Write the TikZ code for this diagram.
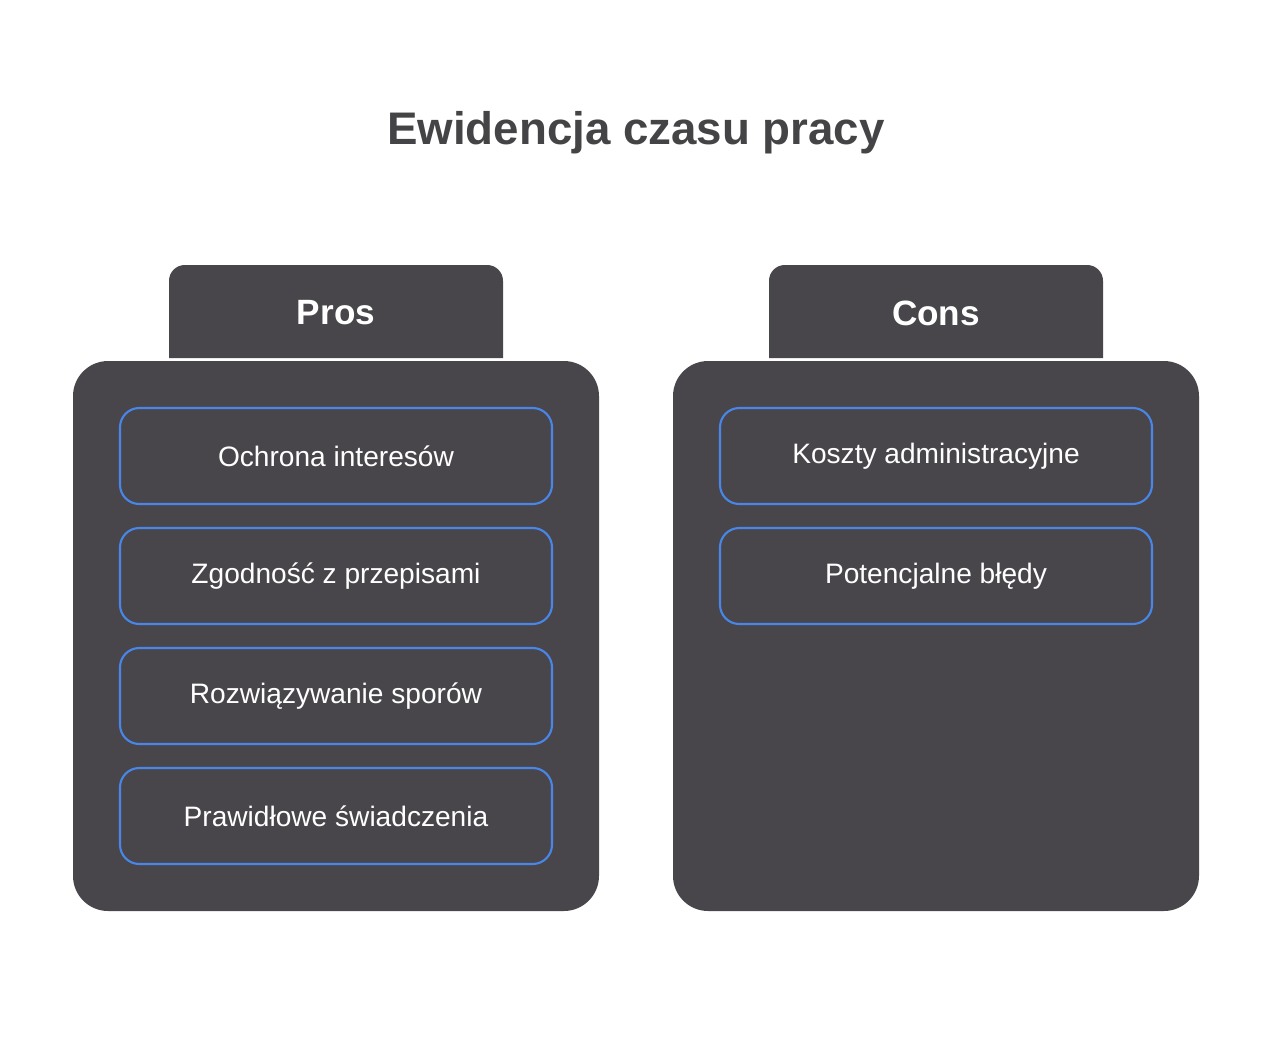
\documentclass[tikz,border=0pt]{standalone}
\usepackage{fontspec}
\setmainfont{Liberation Sans}
\definecolor{panel}{HTML}{48464A}
\definecolor{ttl}{HTML}{444446}
\definecolor{blu}{HTML}{4A86E8}
\begin{document}
\begin{tikzpicture}[x=0.02cm,y=-0.02cm,
  item/.style={draw=blu,line width=1.2pt,rounded corners=11pt,minimum width=432*0.02cm,minimum height=96*0.02cm,text=white,font=\fontsize{16}{19}\selectfont,inner sep=0pt},
  head/.style={text=white,font=\bfseries\fontsize{20}{24}\selectfont},
  pan/.style={fill=panel,rounded corners=20pt}]
\useasboundingbox (0,0) rectangle (1272,1056);
\node[text=ttl,font=\bfseries\fontsize{26}{30}\selectfont] (title) at (636,133) {Ewidencja czasu pracy};
\foreach \dx/\nm in {0/pros,600/cons}{
  \fill[panel] (169+\dx,358) [rounded corners=9pt] -- (169+\dx,265) -- (503+\dx,265) -- (503+\dx,300) [sharp corners] -- (503+\dx,358) -- cycle;
  \fill[pan] (73+\dx,361) rectangle (599+\dx,911);
}
\node[head] (prosh) at (336,313) {Pros};
\node[head] (consh) at (936,313) {Cons};
\node[item] (p1) at (336,456) {Ochrona interesów};
\node[item] (p2) at (336,576) {Zgodność z przepisami};
\node[item] (p3) at (336,696) {Rozwiązywanie sporów};
\node[item] (p4) at (336,816) {Prawidłowe świadczenia};
\node[item] (c1) at (936,456) {Koszty administracyjne};
\node[item] (c2) at (936,576) {Potencjalne błędy};
\end{tikzpicture}
\end{document}
